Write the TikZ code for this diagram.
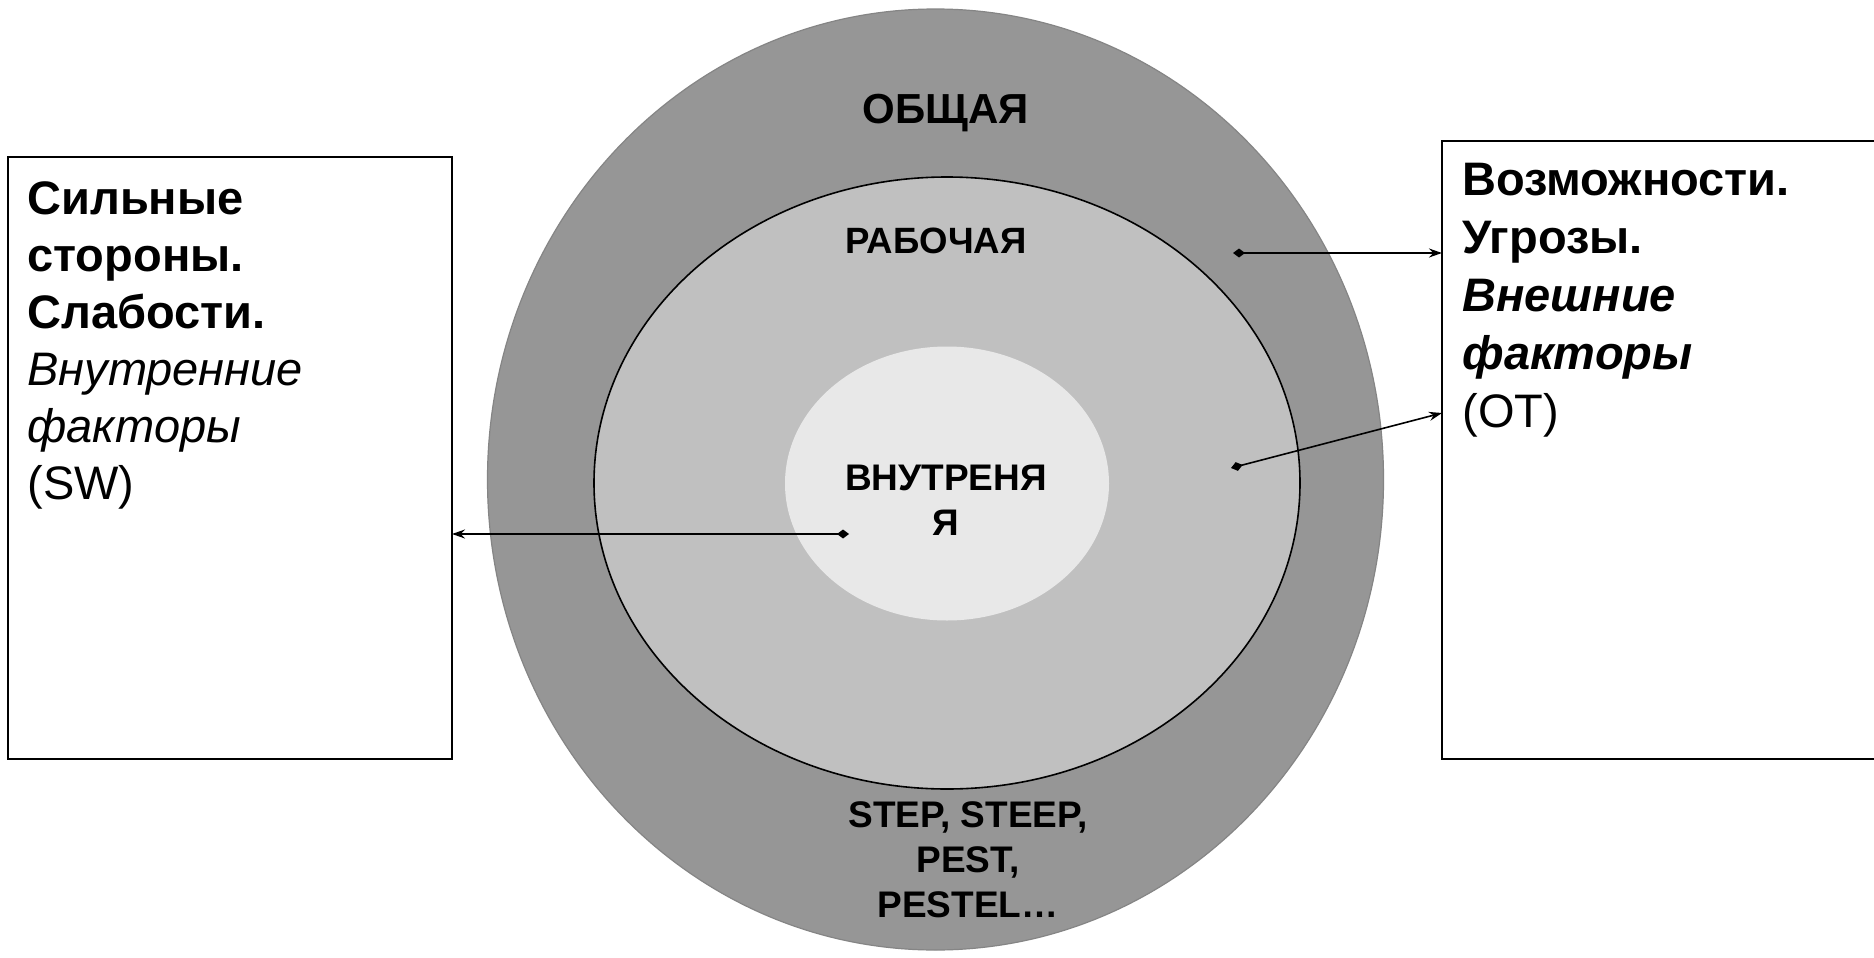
\documentclass[tikz,border=0pt]{standalone}
\usepackage{fontspec}
\setmainfont{Liberation Sans}
\usetikzlibrary{shapes.geometric,arrows.meta}
\definecolor{ringouter}{HTML}{969696}
\definecolor{ringedge}{HTML}{858585}
\definecolor{ringmid}{HTML}{C0C0C0}
\definecolor{ringinner}{HTML}{E8E8E8}
\begin{document}
\begin{tikzpicture}[x=0.5pt,y=-0.5pt,
  zone/.style={ellipse, inner sep=0, outer sep=0},
  sidebox/.style={draw=black, line width=1pt, fill=white, inner sep=0, outer sep=0},
  zonelabel/.style={align=center, inner sep=0, anchor=base},
  sidetext/.style={align=left, anchor=base west, inner sep=0},
  link/.style={line width=0.8pt, {Diamond[length=6pt,width=4.5pt]}-{Stealth[length=6.5pt,width=4.5pt]}}]
\useasboundingbox (0,0) rectangle (1874,958);
\fill[white] (0,0) rectangle (1874,958);

% nested environment zones
\node[zone, fill=ringouter, draw=ringedge, line width=0.6pt,
      minimum width=448pt, minimum height=470.5pt] (outer) at (935.5,479.5) {};
\node[zone, fill=ringmid, draw=black, line width=0.8pt,
      minimum width=353pt, minimum height=306pt] (middle) at (947,483) {};
\node[zone, fill=ringinner,
      minimum width=162pt, minimum height=137pt] (inner) at (947,483.5) {};

% zone labels (multi-line nodes sit on the baseline of their last line)
\node[zonelabel, font=\bfseries\fontsize{21}{25}\selectfont] (lgen) at (946,123) {ОБЩАЯ};
\node[zonelabel, font=\bfseries\fontsize{18.3}{22}\selectfont] (lwork) at (936,253) {РАБОЧАЯ};
\node[zonelabel, font=\bfseries\fontsize{18.5}{22.5}\selectfont] (lint) at (946,535) {ВНУТРЕНЯ\\Я};
\node[zonelabel, font=\bfseries\fontsize{18.5}{22.5}\selectfont] (lstep) at (968,917) {STEP, STEEP,\\PEST,\\PESTEL…};

% side boxes
\node[sidebox, minimum width=222pt, minimum height=301pt] (lbox) at (230,458) {};
\node[sidebox, minimum width=224pt, minimum height=309pt] (rbox) at (1666,450) {};

\node[sidetext, font=\fontsize{23.5}{28.5}\selectfont] (ltext) at (27,499) {\textbf{Сильные}\\\textbf{стороны.}\\\textbf{Слабости.}\\\textit{Внутренние}\\\textit{факторы}\\(SW)};
\node[sidetext, font=\fontsize{23.5}{29}\selectfont] (rtext) at (1462,427) {\textbf{Возможности.}\\\textbf{Угрозы.}\\\textbf{\textit{Внешние}}\\\textbf{\textit{факторы}}\\(ОТ)};

% links from zones to the factor boxes
\coordinate (a1) at (849,534);
\coordinate (a2) at (1233,253);
\coordinate (a3) at (1231,468);
\coordinate (t3) at (1442,413);
\draw[link] (a1) -- (a1 -| lbox.east);
\draw[link] (a2) -- (a2 -| rbox.west);
\draw[link] (a3) -- (t3);
\end{tikzpicture}
\end{document}
